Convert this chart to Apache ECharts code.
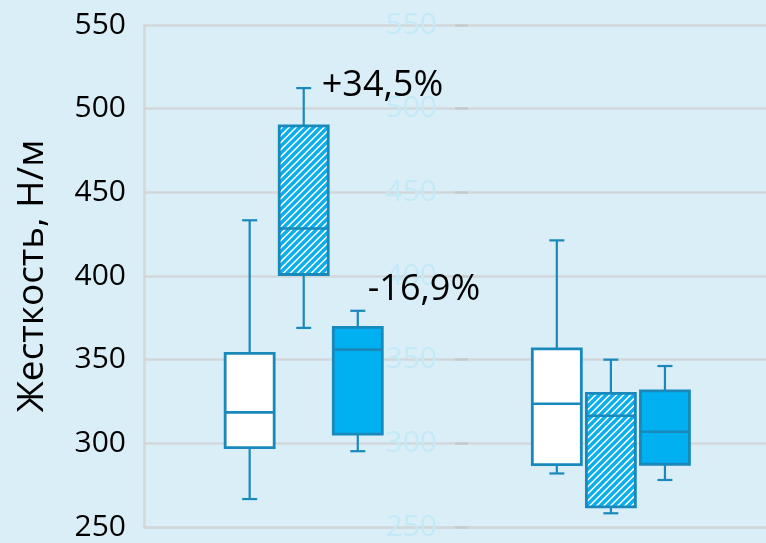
<!DOCTYPE html>
<html>
<head>
<meta charset="utf-8">
<script src="https://cdn.jsdelivr.net/npm/echarts@6/dist/echarts.min.js"></script>
<style>
  html, body { margin: 0; padding: 0; background: #daeef8; }
  #chart { width: 766px; height: 543px; }
</style>
</head>
<body>
<div id="chart"></div>
<script>
// Two test groups, three samples per group
const groups = ['Группа 1', 'Группа 2'];
// Box statistics per group: [min, Q1, median, Q3, max], Н/м
const sampleWhite = [
  [266.7, 297.4, 318.5, 353.8, 433.3],
  [282.0, 287.3, 323.7, 356.4, 421.3]
];
const sampleHatched = [
  [369.0, 400.9, 428.4, 489.7, 512.3],
  [258.2, 262.0, 316.5, 329.8, 350.0]
];
const sampleBlue = [
  [295.3, 305.5, 356.0, 369.3, 379.2],
  [278.1, 287.5, 306.9, 331.3, 346.2]
];
const yTicks = [250, 300, 350, 400, 450, 500, 550];

const FONT = 'Open Sans';
const STROKE = '#1889ba';

// Diagonal hatch tile for the striped boxes
function hatchPattern() {
  const c = document.createElement('canvas');
  const s = 7;
  c.width = s; c.height = s;
  const g = c.getContext('2d');
  g.fillStyle = '#ffffff';
  g.fillRect(0, 0, s, s);
  g.strokeStyle = '#0caeee';
  g.lineWidth = 3.4;
  g.beginPath();
  g.moveTo(-1, s + 1); g.lineTo(s + 1, -1);
  g.moveTo(-2, 2); g.lineTo(2, -2);
  g.moveTo(s - 2, s + 2); g.lineTo(s + 2, s - 2);
  g.stroke();
  return { image: c, repeat: 'repeat' };
}

const SLOT = 0.176;     // offset of side boxes from the group centre (axis units)
const BOX_W = 49;       // box width, px
const CAP_HALF = 7.5;   // half width of whisker caps, px

function toRows(stats, slot) {
  return stats.map((s, g) => [g + 1 + slot * SLOT].concat(s));
}

function boxRenderer(fill) {
  return function (params, api) {
    const x = api.value(0);
    const pMin = api.coord([x, api.value(1)]);
    const pQ1 = api.coord([x, api.value(2)]);
    const pMed = api.coord([x, api.value(3)]);
    const pQ3 = api.coord([x, api.value(4)]);
    const pMax = api.coord([x, api.value(5)]);
    const cx = pMed[0];
    const h = BOX_W / 2;
    const lineStyle = { stroke: STROKE, lineWidth: 2.2, fill: null };
    return {
      type: 'group',
      children: [
        { type: 'line', shape: { x1: cx, y1: pQ3[1], x2: cx, y2: pMax[1] }, style: lineStyle },
        { type: 'line', shape: { x1: cx, y1: pQ1[1], x2: cx, y2: pMin[1] }, style: lineStyle },
        { type: 'line', shape: { x1: cx - CAP_HALF, y1: pMax[1], x2: cx + CAP_HALF, y2: pMax[1] }, style: lineStyle },
        { type: 'line', shape: { x1: cx - CAP_HALF, y1: pMin[1], x2: cx + CAP_HALF, y2: pMin[1] }, style: lineStyle },
        { type: 'rect', shape: { x: cx - h, y: pQ3[1], width: BOX_W, height: pQ1[1] - pQ3[1] },
          style: { fill: fill, stroke: STROKE, lineWidth: 2.8 } },
        { type: 'line', shape: { x1: cx - h, y1: pMed[1], x2: cx + h, y2: pMed[1] },
          style: { stroke: STROKE, lineWidth: 2.6 } }
      ]
    };
  };
}

function boxSeries(name, stats, slot, fill) {
  return {
    name: name,
    type: 'custom',
    renderItem: boxRenderer(fill),
    encode: { x: 0, y: [1, 2, 3, 4, 5] },
    data: toRows(stats, slot),
    silent: true,
    z: 3
  };
}

// Relative change of medians in the first group
const med = s => s[0][2];
function pct(a, b) {
  const v = (b / a - 1) * 100;
  return (v > 0 ? '+' : '') + v.toFixed(1).replace('.', ',') + '%';
}
const rise = pct(med(sampleWhite), med(sampleHatched));
const drop = pct(med(sampleHatched), med(sampleBlue));

function note(text, x, y, dist) {
  return {
    type: 'scatter',
    symbolSize: 0,
    silent: true,
    z: 5,
    itemStyle: { opacity: 1 },
    data: [[x, y]],
    label: {
      show: true, position: 'right', distance: dist,
      formatter: text, color: '#000000', fontFamily: FONT, fontSize: 36
    }
  };
}

const axisFont = { fontFamily: FONT, fontSize: 30 };
const chart = echarts.init(document.getElementById('chart'), null, { renderer: 'canvas' });
chart.setOption({
  backgroundColor: '#daeef8',
  animation: false,
  grid: { left: 144, right: 0, top: 25, bottom: 16, containLabel: false },
  xAxis: {
    type: 'value', min: 0.48, max: 2.505,
    axisLine: { show: true, lineStyle: { color: '#d2d7da', width: 2.5 } },
    axisTick: { show: false }, axisLabel: { show: false }, splitLine: { show: false }
  },
  yAxis: [
    {
      type: 'value', min: yTicks[0], max: yTicks[yTicks.length - 1], interval: 50,
      name: 'Жесткость, Н/м', nameLocation: 'middle', nameGap: 93,
      nameTextStyle: { color: '#000', fontSize: 37, fontFamily: FONT },
      axisLine: { show: true, lineStyle: { color: '#d2d7da', width: 2.5 } },
      axisTick: { show: false },
      axisLabel: Object.assign({ color: '#000', margin: 18 }, axisFont),
      splitLine: { show: true, lineStyle: { color: '#d2d7da', width: 2.5 } }
    },
    {
      // faint inner scale
      type: 'value', min: yTicks[0], max: yTicks[yTicks.length - 1], interval: 50,
      position: 'left', offset: -324,
      axisLine: { show: false },
      axisTick: { show: true, length: 13, lineStyle: { color: '#c6cacc', width: 2.5 } },
      axisLabel: Object.assign({ color: '#c4e9f7', margin: 31 }, axisFont),
      splitLine: { show: false }
    }
  ],
  series: [
    boxSeries(groups[0] + ' / белый', sampleWhite, -1, '#ffffff'),
    boxSeries('штриховка', sampleHatched, 0, hatchPattern()),
    boxSeries('синий', sampleBlue, 1, '#00b0f0'),
    note(rise, 1, 513.5, 18),
    note(drop, 1 + SLOT, 391.8, 10)
  ]
});
</script>
</body>
</html>
